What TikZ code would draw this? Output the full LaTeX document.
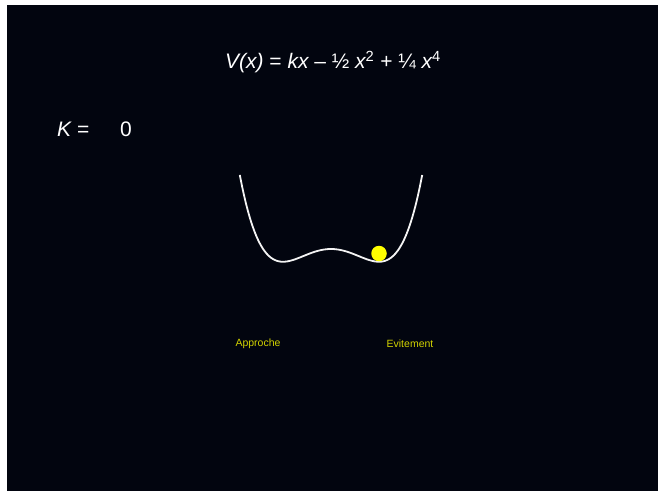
\documentclass[tikz,border=0pt]{standalone}
\usepackage{fontspec}
\setmainfont{Liberation Sans}
\usetikzlibrary{positioning}
\definecolor{bgdark}{HTML}{02050F}
\definecolor{ballfill}{HTML}{FFFF00}
\definecolor{labtext}{HTML}{D2D200}
\definecolor{curvecol}{HTML}{F4F4F4}

\begin{document}
\begin{tikzpicture}[
  x=1pt, y=-1pt,
  formula/.style={text=white, font=\fontsize{21}{25}\selectfont, inner sep=0pt},
  kval/.style={text=white, font=\fontsize{21}{25}\selectfont, inner sep=0pt},
  lab/.style={text=labtext, font=\fontsize{10.5}{12}\selectfont, inner sep=0pt},
  potential/.style={draw=curvecol, line width=1.8pt, line join=round},
  ball/.style={circle, fill=ballfill, minimum size=15.5pt, inner sep=0pt},
]
% ---- page and dark background
\fill[white] (0,0) rectangle (669,491);
\useasboundingbox (0,0) rectangle (669,491);
\fill[bgdark] (7,5) rectangle (658,491);
% ---- title formula and parameter value
\node[formula] (title) at (333,62) {\itshape V(x) \upshape= \itshape kx \upshape– ½ \itshape x\upshape\textsuperscript{2} + ¼ \itshape x\upshape\textsuperscript{4}};
\node[kval, anchor=west] (kname) at (57,129) {\itshape K \upshape=};
\node[kval, anchor=west] (kvalue) at (120,129) {0};
% ---- double well V(x) = -x^2/2 + x^4/4 (k = 0)
\draw[potential] plot[domain=-1.9:1.9, samples=90, smooth]
  ({331+48*\x}, {249-51*(0.25*\x*\x*\x*\x-0.5*\x*\x)});
\node[ball] (bille) at (379,253.5) {};
% ---- well labels
\node[lab] (approche) at (258,343.5) {Approche};
\node[lab] (evitement) at (410,344) {Evitement};
\end{tikzpicture}
\end{document}
